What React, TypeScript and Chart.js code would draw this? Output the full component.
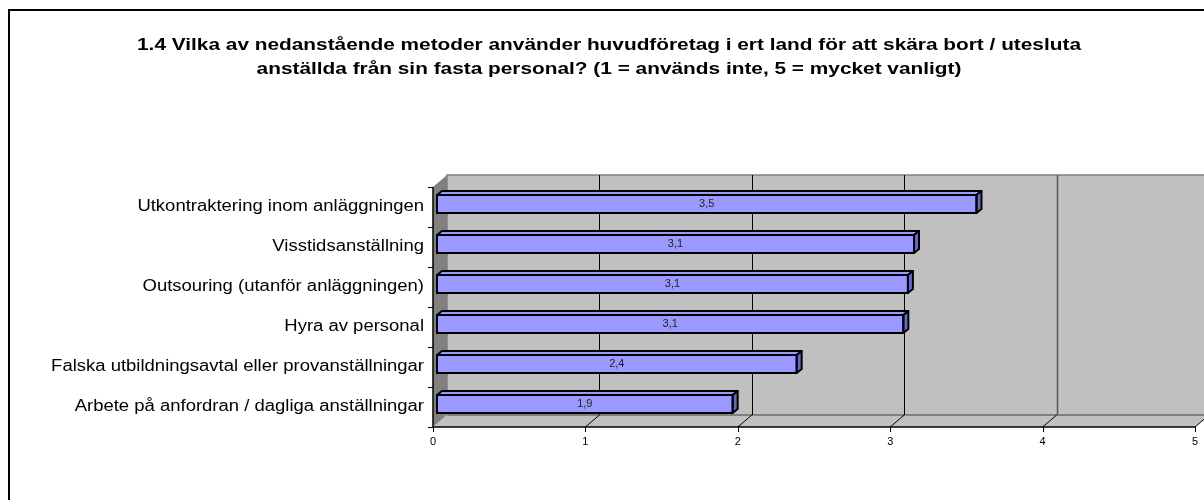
import React, { useEffect, useRef } from "react";
import { Chart, registerables } from "chart.js";
Chart.register(...registerables);

const categories = [
  "Utkontraktering inom anläggningen",
  "Visstidsanställning",
  "Outsouring (utanför anläggningen)",
  "Hyra av personal",
  "Falska utbildningsavtal eller provanställningar",
  "Arbete på anfordran / dagliga anställningar",
];
const values = [3.54, 3.13, 3.09, 3.06, 2.36, 1.94];
const xTicks = [0, 1, 2, 3, 4, 5];
const titleLines = [
  "1.4 Vilka av nedanstående metoder använder huvudföretag i ert land för att skära bort / utesluta",
  "anställda från sin fasta personal? (1 = används inte, 5 = mycket vanligt)",
];

const FONT = "'Liberation Sans', Arial, sans-serif";
const DX = 14, DY = 12; // depth of 3D box
const FX = 4, FY = 3; // bar front plane offset from the front axis plane
const BD = 5, BDY = 4; // bar depth

function wideText(ctx: any, text: string, x: number, y: number, sx: number) {
  ctx.save();
  ctx.translate(x, y);
  ctx.scale(sx, 1);
  ctx.fillText(text, 0, 0);
  ctx.restore();
}

const box3d = {
  id: "box3d",
  beforeDatasetsDraw(chart: any) {
    const ctx = chart.ctx;
    const xs = chart.scales.x;
    const ys = chart.scales.y;
    const ca = chart.chartArea;
    const pf = (v: number) => xs.getPixelForValue(v) - FX;
    const yTop = ca.top + FY;
    const yBot = ca.bottom + FY;
    const x0 = pf(xTicks[0]);
    const x5 = pf(xTicks[xTicks.length - 1]);
    ctx.save();
    // outer frame
    ctx.strokeStyle = "#000";
    ctx.lineWidth = 2;
    ctx.beginPath();
    ctx.moveTo(9, 510);
    ctx.lineTo(9, 10);
    ctx.lineTo(1210, 10);
    ctx.stroke();
    // title
    ctx.fillStyle = "#000";
    ctx.font = `bold 17px ${FONT}`;
    ctx.textAlign = "center";
    ctx.textBaseline = "middle";
    titleLines.forEach((t, i) => wideText(ctx, t, 609, 45 + i * 24, 1.225));
    // back wall
    ctx.fillStyle = "#C0C0C0";
    ctx.fillRect(x0 + DX, yTop - DY, x5 - x0, yBot - yTop);
    ctx.strokeStyle = "#808080";
    ctx.lineWidth = 1.5;
    ctx.beginPath();
    ctx.moveTo(x0 + DX, yBot - DY);
    ctx.lineTo(x0 + DX, yTop - DY);
    ctx.lineTo(x5 + DX, yTop - DY);
    ctx.stroke();
    // left wall
    ctx.fillStyle = "#808080";
    ctx.beginPath();
    ctx.moveTo(x0, yTop);
    ctx.lineTo(x0 + DX, yTop - DY);
    ctx.lineTo(x0 + DX, yBot - DY);
    ctx.lineTo(x0, yBot);
    ctx.closePath();
    ctx.fill();
    // floor
    ctx.fillStyle = "#C0C0C0";
    ctx.beginPath();
    ctx.moveTo(x0, yBot);
    ctx.lineTo(x0 + DX, yBot - DY);
    ctx.lineTo(x5 + DX, yBot - DY);
    ctx.lineTo(x5, yBot);
    ctx.closePath();
    ctx.fill();
    ctx.strokeStyle = "#808080";
    ctx.lineWidth = 2;
    ctx.beginPath();
    ctx.moveTo(x0 + DX, yBot - DY);
    ctx.lineTo(x5 + DX, yBot - DY);
    ctx.stroke();
    // gridlines on back wall
    xTicks.slice(1, -1).forEach((v) => {
      const gx = Math.round(pf(v) + DX) + 0.5;
      ctx.strokeStyle = v === 4 ? "#555" : "#000";
      ctx.lineWidth = v === 4 ? 1.5 : 1;
      ctx.beginPath();
      ctx.moveTo(gx, yTop - DY);
      ctx.lineTo(gx, yBot - DY);
      ctx.stroke();
    });
    // floor diagonals
    ctx.strokeStyle = "#000";
    ctx.lineWidth = 1;
    xTicks.slice(1).forEach((v) => {
      ctx.beginPath();
      ctx.moveTo(pf(v), yBot);
      ctx.lineTo(pf(v) + DX, yBot - DY);
      ctx.stroke();
    });
    // axes
    ctx.lineWidth = 1.5;
    ctx.beginPath();
    ctx.moveTo(x0, yTop);
    ctx.lineTo(x0, yBot);
    ctx.lineTo(x5, yBot);
    ctx.stroke();
    ctx.lineWidth = 1;
    xTicks.forEach((v) => {
      const tx = Math.round(pf(v)) + 0.5;
      ctx.beginPath();
      ctx.moveTo(tx, yBot);
      ctx.lineTo(tx, yBot + 5);
      ctx.stroke();
    });
    for (let i = 0; i <= categories.length; i++) {
      const ty = Math.round(yTop + ((yBot - yTop) * i) / categories.length) + 0.5;
      ctx.beginPath();
      ctx.moveTo(x0 - 5, ty);
      ctx.lineTo(x0, ty);
      ctx.stroke();
    }
    // tick labels
    ctx.fillStyle = "#000";
    ctx.font = `11px ${FONT}`;
    ctx.textAlign = "center";
    ctx.textBaseline = "middle";
    xTicks.forEach((v) => ctx.fillText(String(v), pf(v), yBot + 15));
    // category labels
    ctx.font = `16px ${FONT}`;
    ctx.textAlign = "right";
    categories.forEach((c, i) => wideText(ctx, c, x0 - 9, ys.getPixelForValue(i) + FY, 1.155));
    ctx.restore();
  },
  afterDatasetsDraw(chart: any) {
    const ctx = chart.ctx;
    const meta = chart.getDatasetMeta(0);
    ctx.save();
    meta.data.forEach((bar: any, i: number) => {
      const { x, y, base, height } = bar.getProps(["x", "y", "base", "height"], true);
      const top = y - height / 2;
      const bot = y + height / 2;
      ctx.lineWidth = 2;
      ctx.strokeStyle = "#000";
      ctx.lineJoin = "round";
      // top face
      ctx.fillStyle = "#9999FF";
      ctx.beginPath();
      ctx.moveTo(base, top);
      ctx.lineTo(base + BD, top - BDY);
      ctx.lineTo(x + BD, top - BDY);
      ctx.lineTo(x, top);
      ctx.closePath();
      ctx.fill();
      ctx.stroke();
      // side face
      ctx.fillStyle = "#6666CC";
      ctx.beginPath();
      ctx.moveTo(x, top);
      ctx.lineTo(x + BD, top - BDY);
      ctx.lineTo(x + BD, bot - BDY);
      ctx.lineTo(x, bot);
      ctx.closePath();
      ctx.fill();
      ctx.stroke();
      // front outline
      ctx.strokeRect(base, top, x - base, height);
      // value label
      ctx.fillStyle = "#222";
      ctx.font = `11px ${FONT}`;
      ctx.textAlign = "center";
      ctx.textBaseline = "middle";
      ctx.fillText(values[i].toFixed(1).replace(".", ","), (base + x) / 2, y);
    });
    ctx.restore();
  },
};

export default function App() {
  const ref = useRef<HTMLCanvasElement>(null);
  useEffect(() => {
    if (!ref.current) return;
    const chart = new Chart(ref.current, {
      type: "bar",
      data: {
        labels: categories,
        datasets: [
          {
            data: values,
            backgroundColor: "#9999FF",
            borderColor: "#000",
            borderWidth: 0,
            barThickness: 18,
          },
        ],
      },
      options: {
        indexAxis: "y",
        animation: false,
        responsive: false,
        events: [],
        layout: { padding: { left: 437, right: 5, top: 184, bottom: 76 } },
        scales: {
          x: { display: false, min: 0, max: 5 },
          y: { display: false },
        },
        plugins: {
          legend: { display: false },
          title: { display: false },
          tooltip: { enabled: false },
        },
      },
      plugins: [box3d],
    });
    return () => chart.destroy();
  }, []);
  return (
    <div style={{ position: "absolute", left: 0, top: 0, width: 1204, height: 500, background: "#fff" }}>
      <canvas ref={ref} width={1204} height={500} style={{ display: "block" }} />
    </div>
  );
}
